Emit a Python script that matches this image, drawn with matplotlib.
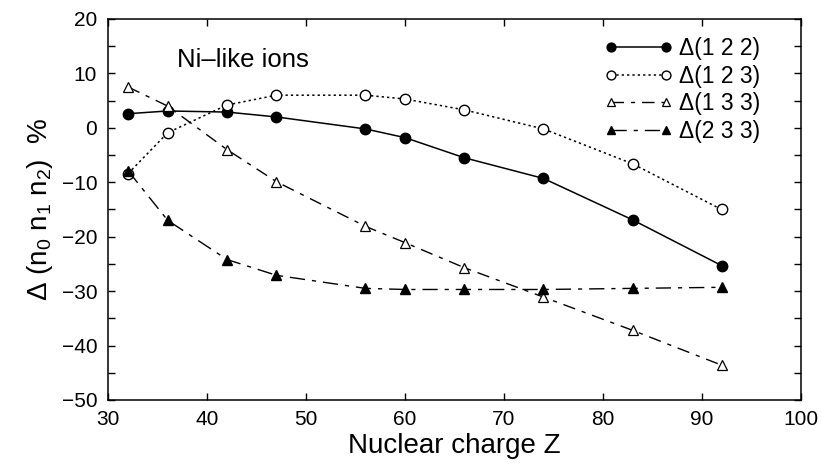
import matplotlib
matplotlib.use("Agg")
import matplotlib.pyplot as plt
from matplotlib.ticker import MultipleLocator

# =========================
# DATA
# =========================
Z = [32, 36, 42, 47, 56, 60, 66, 74, 83, 92]
d122 = [2.6, 3.1, 2.9, 2.0, -0.2, -1.8, -5.5, -9.3, -16.9, -25.3]
d123 = [-8.4, -0.9, 4.2, 6.0, 6.0, 5.3, 3.3, -0.2, -6.6, -15.0]
d133 = [7.5, 4.0, -4.0, -9.9, -18.1, -21.1, -25.7, -31.1, -37.2, -43.6]
d233 = [-7.9, -17.0, -24.2, -27.1, -29.5, -29.7, -29.7, -29.7, -29.5, -29.3]

plt.rcParams["font.family"] = ["Liberation Sans", "DejaVu Sans"]
plt.rcParams["mathtext.fontset"] = "custom"
plt.rcParams["mathtext.rm"] = "Liberation Sans"
plt.rcParams["mathtext.it"] = "Liberation Sans"

fig = plt.figure(figsize=(8.22, 4.75), dpi=100)
ax = fig.add_axes([0.1318, 0.158, 0.8422, 0.802])

ax.plot(Z, d122, color="black", lw=1.1, marker="o", ms=7.5,
        mfc="black", mec="black", label="Δ(1 2 2)")
ax.plot(Z, d123, color="black", lw=1.1, ls=(0, (1.5, 2)), marker="o", ms=7.5,
        mfc="white", mec="black", label="Δ(1 2 3)")
ax.plot(Z, d133, color="black", lw=1.0, ls=(0, (9, 5, 3, 5)), marker="^", ms=7.5,
        mfc="white", mec="black", mew=0.9, label="Δ(1 3 3)")
ax.plot(Z, d233, color="black", lw=1.0, ls=(0, (11, 5, 3, 5)), marker="^", ms=7.5,
        mfc="black", mec="black", label="Δ(2 3 3)")

ax.set_xlim(30, 100)
ax.set_ylim(-50, 20)
ax.xaxis.set_major_locator(MultipleLocator(10))
ax.yaxis.set_major_locator(MultipleLocator(10))
ax.yaxis.set_minor_locator(MultipleLocator(5))
ax.tick_params(which="both", direction="in", top=True, right=True, labelsize=15)
ax.tick_params(which="major", length=5, width=1)
ax.tick_params(which="minor", length=5, width=1)
ax.tick_params(axis="x", pad=7)
ax.tick_params(axis="y", pad=8)
for s in ax.spines.values():
    s.set_linewidth(1.1)

ax.set_xlabel("Nuclear charge Z", fontsize=20, labelpad=3)
ax.set_ylabel(r"Δ (n$_0$ n$_1$ n$_2$)  %", fontsize=20, labelpad=5)

ax.text(0.099, 0.925, "Ni–like ions", transform=ax.transAxes, fontsize=18.5,
        va="top", ha="left")

ax.legend(loc="upper left", bbox_to_anchor=(0.716, 0.952), frameon=False,
          fontsize=16.5, handlelength=3.0, handletextpad=0.26, labelspacing=0.2,
          borderpad=0, borderaxespad=0, numpoints=2, markerscale=0.85)

plt.savefig("out.png", dpi=100)
